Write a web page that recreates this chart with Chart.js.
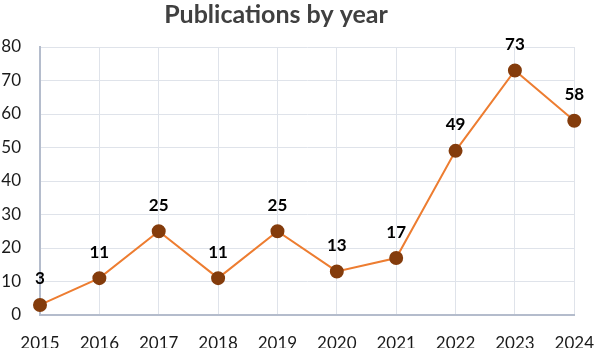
<!DOCTYPE html>
<html>
<head>
<meta charset="UTF-8" />
<script src="https://cdn.jsdelivr.net/npm/chart.js"></script>
<style>
  html, body { margin: 0; padding: 0; background: #fff; }
  #wrap { width: 612px; height: 348px; }
</style>
</head>
<body>
<div id="wrap"><canvas id="pubChart"></canvas></div>
<script>
  // chart data
  const years = ["2015", "2016", "2017", "2018", "2019", "2020", "2021", "2022", "2023", "2024"];
  const publications = [3, 11, 25, 11, 25, 13, 17, 49, 73, 58];
  const yTicks = [0, 10, 20, 30, 40, 50, 60, 70, 80];
  const chartTitle = "Publications by year";

  const FONT = "Lato, 'Open Sans', sans-serif";

  // bold numbers above each point + the title (sits a bit left of centre in the original)
  const valueLabels = {
    id: "valueLabels",
    afterDatasetsDraw(chart) {
      const ctx = chart.ctx;
      const meta = chart.getDatasetMeta(0);
      ctx.save();
      ctx.font = "bold 17px " + FONT;
      ctx.fillStyle = "#000";
      ctx.textAlign = "center";
      ctx.textBaseline = "middle";
      meta.data.forEach((pt, i) => {
        ctx.fillText(String(publications[i]), pt.x, pt.y - 26);
      });

      ctx.font = "bold 25px " + FONT;
      ctx.fillStyle = "#404040";
      ctx.textBaseline = "alphabetic";
      ctx.fillText(chartTitle, chart.chartArea.left + 236, 23);
      ctx.restore();
    }
  };

  new Chart(document.getElementById("pubChart").getContext("2d"), {
    type: "line",
    data: {
      labels: years,
      datasets: [{
        data: publications,
        borderColor: "#ED7D31",
        borderWidth: 2,
        pointBackgroundColor: "#843C0C",
        pointBorderColor: "#843C0C",
        pointRadius: 6,
        tension: 0
      }]
    },
    options: {
      responsive: true,
      maintainAspectRatio: false,
      animation: false,
      layout: { padding: { left: 0, right: 20, top: 47, bottom: 0 } },
      plugins: {
        legend: { display: false },
        tooltip: { enabled: false },
        title: { display: false }
      },
      scales: {
        x: {
          offset: false,
          grid: { color: "#dfe3ea", lineWidth: 1, drawTicks: false },
          border: { color: "#b4bccc", width: 2 },
          ticks: { color: "#1a1a1a", font: { family: FONT, size: 17 }, padding: 18, maxRotation: 0 },
          afterFit(scale) { scale.height = 33; }
        },
        y: {
          min: 0,
          max: 80,
          afterBuildTicks(scale) { scale.ticks = yTicks.map(v => ({ value: v })); },
          grid: { color: "#dfe3ea", lineWidth: 1, drawTicks: false },
          border: { color: "#b4bccc", width: 2 },
          ticks: { color: "#1a1a1a", font: { family: FONT, size: 17 }, padding: 19 },
          afterFit(scale) { scale.width = 40; }
        }
      }
    },
    plugins: [valueLabels]
  });
</script>
</body>
</html>
